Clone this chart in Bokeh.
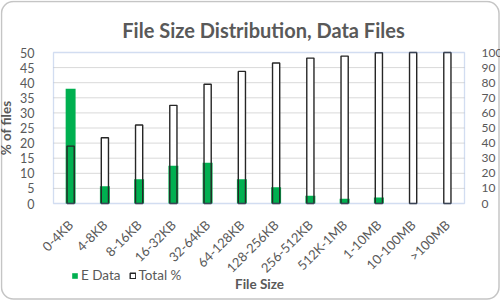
import math
from bokeh.plotting import figure
from bokeh.models import (Range1d, LinearAxis, FixedTicker, Label, BoxAnnotation,
                          Legend, LegendItem, ColumnDataSource)
from bokeh.embed import file_html
from bokeh.resources import INLINE

categories = ["0-4KB", "4-8KB", "8-16KB", "16-32KB", "32-64KB", "64-128KB",
              "128-256KB", "256-512KB", "512K-1MB", "1-10MB", "10-100MB", ">100MB"]
e_data = [38.0, 5.7, 8.0, 12.5, 13.5, 8.0, 5.4, 2.6, 1.6, 2.0, 0.0, 0.0]
total_pct = [38.0, 43.5, 52.0, 65.0, 79.0, 87.5, 93.0, 96.3, 97.6, 99.8, 100.0, 100.0]
left_ticks = [0, 5, 10, 15, 20, 25, 30, 35, 40, 45, 50]
right_ticks = [0, 10, 20, 30, 40, 50, 60, 70, 80, 90, 100]

FONT = "Lato"
GRAY = "#595959"
W, H = 500, 300

n = len(categories)
xpos = list(range(1, n + 1))

# layout: plot area in canvas pixels
PL, PR, PT, PB = 53.0, 464.0, 52.0, 203.0
ymax = left_ticks[-1]
ymax2 = right_ticks[-1]
xu = (PR - PL) / n            # px per category
yu = (PB - PT) / ymax         # px per left-axis unit
x0 = 0.5 - PL / xu
x1 = n + 0.5 + (W - PR) / xu
y0 = -(H - PB) / yu
y1 = ymax + PT / yu


def cx(px):
    return x0 + px / xu


def cy(py):
    return ymax - (py - PT) / yu


src = ColumnDataSource(dict(x=xpos, e=e_data, tot=total_pct))

p = figure(width=W, height=H, x_range=Range1d(x0, x1), y_range=Range1d(y0, y1),
           output_backend="svg", toolbar_location=None,
           min_border_left=0, min_border_right=0, min_border_top=0,
           min_border_bottom=0)
p.extra_y_ranges = {"tot": Range1d(y0 * ymax2 / ymax, y1 * ymax2 / ymax)}
p.outline_line_color = None
p.background_fill_color = "white"
p.border_fill_color = "white"
p.xgrid.visible = False
p.ygrid.visible = False

# gridlines
grid_vals = left_ticks[1:-1]
p.segment(x0=[0.5] * len(grid_vals), x1=[n + 0.5] * len(grid_vals),
          y0=grid_vals, y1=grid_vals, line_color="#D9D9D9", line_width=1)

# white fill of total bars (behind green)
p.vbar(x="x", top="tot", width=0.21, source=src, y_range_name="tot",
       fill_color="white", line_color=None)
# green E Data bars
r_e = p.vbar(x="x", top="e", width=0.29, source=src,
             fill_color="#00B050", line_color=None)
# outline of total bars on top
r_t = p.vbar(x="x", top="tot", width=0.21, source=src, y_range_name="tot",
             fill_color=None, line_color="#262626", line_width=1.4)

# plot-area border
p.add_layout(BoxAnnotation(left=0.5, right=n + 0.5, bottom=0, top=ymax,
                           fill_color=None, line_color="#6A8FD0", line_width=1.3))

# x axis at y=0
xa = p.xaxis[0]
xa.fixed_location = 0
xa.ticker = FixedTicker(ticks=xpos)
xa.major_label_overrides = {i: c for i, c in zip(xpos, categories)}
xa.major_label_orientation = math.pi / 4
xa.major_label_text_font = FONT
xa.major_label_text_font_size = "13px"
xa.major_label_text_color = GRAY
xa.major_tick_line_color = None
xa.minor_tick_line_color = None
xa.axis_line_color = None
xa.major_label_standoff = 13

ya = p.yaxis[0]
ya.fixed_location = 0.5
ya.bounds = (0, ymax)
ya.ticker = FixedTicker(ticks=left_ticks)
ya.major_label_text_font = FONT
ya.major_label_text_font_size = "12.5px"
ya.major_label_text_color = GRAY
ya.major_tick_line_color = None
ya.minor_tick_line_color = None
ya.axis_line_color = None
ya.major_label_standoff = 13
ya.axis_label = "% of files"
ya.axis_label_text_font = FONT
ya.axis_label_text_font_style = "bold"
ya.axis_label_text_font_size = "13.5px"
ya.axis_label_text_color = GRAY
ya.axis_label_standoff = 3

ra = LinearAxis(y_range_name="tot", ticker=FixedTicker(ticks=right_ticks),
                fixed_location=n + 0.5, bounds=(0, ymax2))
ra.major_label_text_font = FONT
ra.major_label_text_font_size = "12px"
ra.major_label_text_color = GRAY
ra.major_tick_line_color = None
ra.minor_tick_line_color = None
ra.axis_line_color = None
ra.major_label_standoff = 11
p.add_layout(ra, "right")

# texts
p.add_layout(Label(x=cx(263), y=cy(29), text="File Size Distribution, Data Files",
                   text_font=FONT, text_font_style="bold", text_font_size="20px",
                   text_color=GRAY, text_align="center", text_baseline="middle"))
p.add_layout(Label(x=cx(259), y=cy(283), text="File Size",
                   text_font=FONT, text_font_style="bold", text_font_size="13.5px",
                   text_color=GRAY, text_align="center", text_baseline="middle"))

legend = Legend(items=[LegendItem(label="E Data", renderers=[r_e]),
                       LegendItem(label="Total %", renderers=[r_t])],
                orientation="horizontal", location=(71, 17),
                label_text_font=FONT, label_text_font_size="13.5px",
                label_text_color=GRAY, glyph_width=7, glyph_height=7,
                label_standoff=3, spacing=8, padding=0, margin=0,
                border_line_color=None, background_fill_alpha=0)
p.add_layout(legend, "center")

# rounded chart border
p.add_layout(BoxAnnotation(left=cx(1), right=cx(498.5), top=cy(1), bottom=cy(298.5),
                           fill_color=None, line_color="#404040", line_width=1.5,
                           border_radius=12))

open("out.html", "w").write(file_html(p, INLINE))
